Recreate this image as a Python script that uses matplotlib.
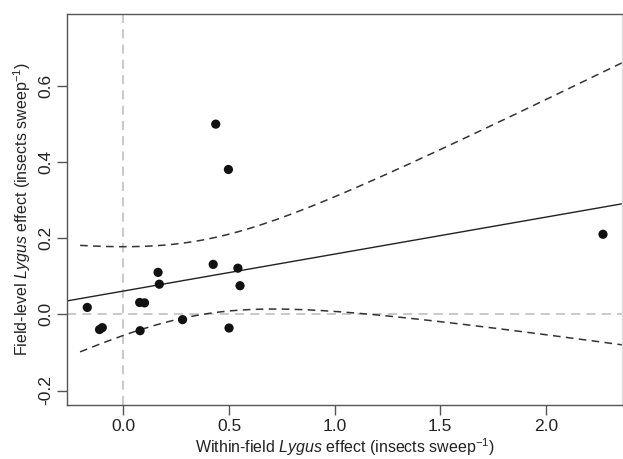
import numpy as np
import matplotlib
matplotlib.use("Agg")
import matplotlib.pyplot as plt

# 點資料
within_effect = [-0.171, -0.113, -0.100, 0.077, 0.100, 0.079, 0.164, 0.170, 0.280,
                 0.425, 0.437, 0.497, 0.542, 0.552, 0.500, 2.270]
field_effect = [0.018, -0.040, -0.035, 0.031, 0.030, -0.043, 0.110, 0.079, -0.014,
                0.131, 0.499, 0.380, 0.121, 0.075, -0.036, 0.210]

# 迴歸線與信賴帶參數
fit_intercept = 0.061
fit_slope = 0.097
band_scale = 0.39          # t * s
band_range = (-0.205, 2.45)

x_ticks = [0.0, 0.5, 1.0, 1.5, 2.0]
y_ticks = [-0.2, 0.0, 0.2, 0.4, 0.6]

plt.rcParams['font.family'] = ['Liberation Sans', 'DejaVu Sans']
plt.rcParams['mathtext.fontset'] = 'custom'
plt.rcParams['mathtext.rm'] = 'Liberation Sans'
plt.rcParams['mathtext.it'] = 'Liberation Sans:italic'

x = np.array(within_effect)
y = np.array(field_effect)
n = len(x)
xbar = x.mean()
sxx = ((x - xbar) ** 2).sum()

fig = plt.figure(figsize=(6.23, 4.59), dpi=100)
ax = fig.add_axes([67 / 623, 54 / 459, 555 / 623, 391 / 459])

# 參考線
ax.axvline(0, color="#bbbbbb", lw=1.1, ls=(0, (6, 4)), zorder=1)
ax.axhline(0, color="#bbbbbb", lw=1.1, ls=(0, (6, 4)), zorder=1)

# 迴歸線
xl = np.linspace(-0.3, 2.45, 200)
ax.plot(xl, fit_intercept + fit_slope * xl, color="#222222", lw=1.0, zorder=2)

# 信賴帶
xb = np.linspace(band_range[0], band_range[1], 300)
yb = fit_intercept + fit_slope * xb
half = band_scale * np.sqrt(1 / n + (xb - xbar) ** 2 / sxx)
ax.plot(xb, yb + half, color="#333333", lw=1.1, ls=(0, (5, 3.5)), zorder=2)
ax.plot(xb, yb - half, color="#333333", lw=1.1, ls=(0, (5, 3.5)), zorder=2)

ax.scatter(x, y, s=44, color="#111111", edgecolor="none", zorder=3)

ax.set_xlim(-0.267, 2.36)
ax.set_ylim(-0.238, 0.788)
ax.set_xticks(x_ticks)
ax.set_xticklabels([f"{v:.1f}" for v in x_ticks])
ax.set_yticks(y_ticks)
ax.set_yticklabels([f"{v:.1f}" for v in y_ticks], rotation=90, va="center")

for s in ax.spines.values():
    s.set_color("#555555")
    s.set_linewidth(1.0)
ax.spines["right"].set_color("#dddddd")

ax.tick_params(axis="both", direction="out", length=7, width=1.0, color="#555555",
               labelsize=12.5, labelcolor="#222222", pad=3)

ax.set_xlabel("Within-field $\\it{Lygus}$ effect (insects sweep$^{-1}$)",
              fontsize=11.5, color="#222222", labelpad=2)
ax.set_ylabel("Field-level $\\it{Lygus}$ effect (insects sweep$^{-1}$)",
              fontsize=11.5, color="#222222", labelpad=4)

fig.savefig("out.png", dpi=100, facecolor="white")
